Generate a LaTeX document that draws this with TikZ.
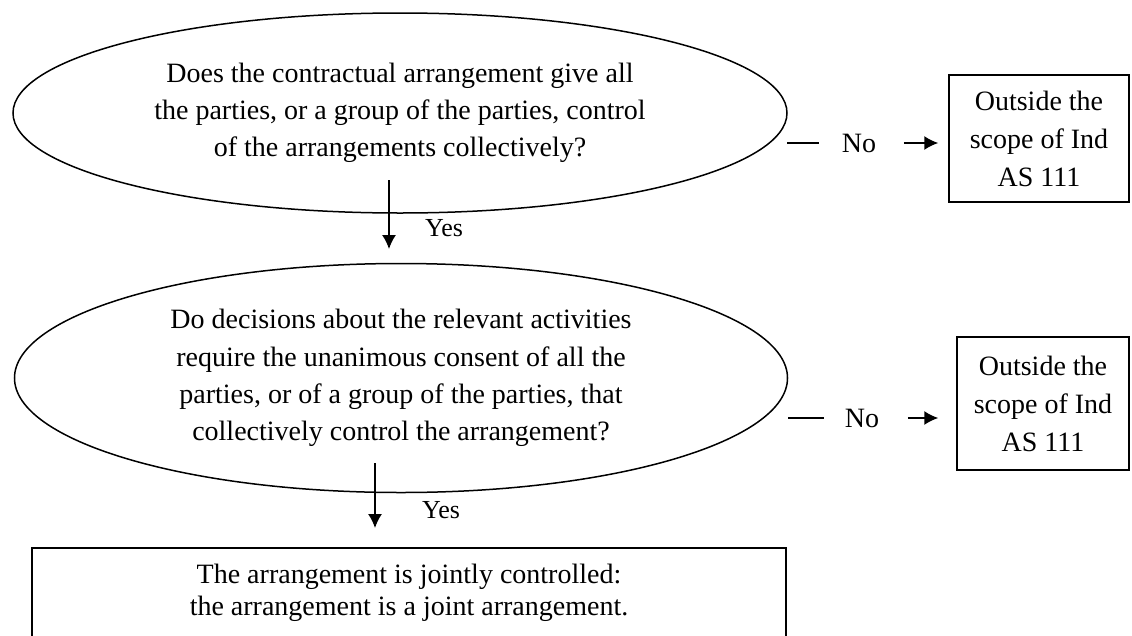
\documentclass[tikz,border=0pt]{standalone}
\usepackage{fontspec}
\setmainfont{Liberation Serif}
\usetikzlibrary{arrows.meta,shapes.geometric}

\begin{document}
\begin{tikzpicture}[x=1pt,y=-1pt,line width=1.5pt,
		question/.style={ellipse,draw,inner sep=0pt,align=center,font=\fontsize{28}{37.3}\selectfont},
		outbox/.style={rectangle,draw,inner sep=0pt,align=center,font=\fontsize{28}{38}\selectfont},
		lbl/.style={inner sep=0pt,font=\fontsize{28}{34}\selectfont},
		yeslbl/.style={inner sep=0pt,font=\fontsize{26}{30}\selectfont},
		tip/.style={-{Latex[length=14pt,width=14pt]}}]
		\useasboundingbox (0,0) rectangle (1132,635);

		\node [question,minimum width=774,minimum height=200] (q1) at (400,113) {Does the contractual arrangement give all\\the parties, or a group of the parties, control\\of the arrangements collectively?};
		\node [question,minimum width=773,minimum height=229] (q2) at (401,378) {Do decisions about the relevant activities\\require the unanimous consent of all the\\parties, or of a group of the parties, that\\collectively control the arrangement?};
		\node [outbox,minimum width=754,minimum height=91,anchor=north,font=\fontsize{28}{32}\selectfont] (jc) at (409,547) {The arrangement is jointly controlled:\\the arrangement is a joint arrangement.};

		\node [outbox,minimum width=180,minimum height=127] (out1) at (1039,138.5) {Outside the\\scope of Ind\\AS 111};
		\node [outbox,minimum width=172,minimum height=133] (out2) at (1043,403.5) {Outside the\\scope of Ind\\AS 111};

		\coordinate (s1) at (389,180);
		\coordinate (e1) at (389,249);
		\coordinate (s2) at (375,463);
		\coordinate (e2) at (375,528);
		\draw [tip] (s1) -- (e1);
		\draw [tip] (s2) -- (e2);
		\node [yeslbl] (yes1) at (444,228) {Yes};
		\node [yeslbl] (yes2) at (441,510) {Yes};

		\coordinate (n1) at (787,143);
		\coordinate (n2) at (788,418);
		\node [lbl] (no1) at (859,143) {No};
		\node [lbl] (no2) at (862,418) {No};
		\draw [shorten >=22pt] (n1) -- (no1.west);
		\draw [shorten >=20pt] (n2) -- (no2.west);
		\draw [tip,shorten <=27pt,shorten >=10pt] (no1.east) -- (no1.east -| out1.west);
		\draw [tip,shorten <=28pt,shorten >=18pt] (no2.east) -- (no2.east -| out2.west);
\end{tikzpicture}
\end{document}
